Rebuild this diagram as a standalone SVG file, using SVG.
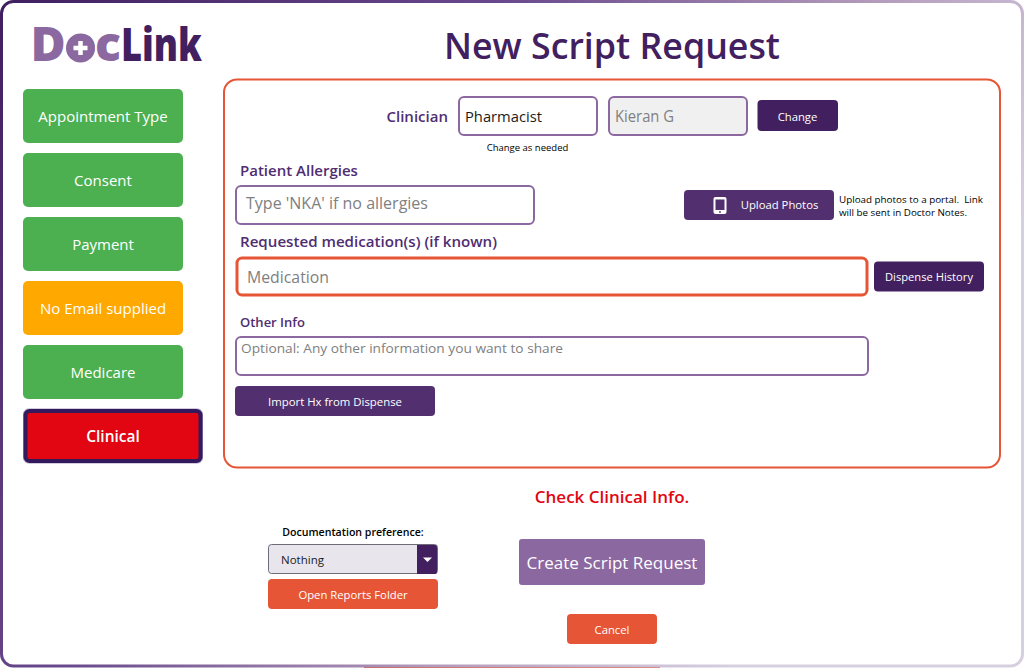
<svg xmlns="http://www.w3.org/2000/svg" width="1024" height="668" viewBox="0 0 1024 668">
<defs>
<linearGradient id="frame" gradientUnits="userSpaceOnUse" x1="0" y1="0" x2="1024" y2="668">
<stop offset="0" stop-color="#3f1f60"/><stop offset="0.35" stop-color="#6a4a8c"/><stop offset="0.6" stop-color="#b49cbc"/><stop offset="0.8" stop-color="#d6cfe0"/><stop offset="1" stop-color="#d6cfe0"/>
</linearGradient>
</defs>
<style>
text{font-family:"Open Sans","Noto Sans","Liberation Sans",sans-serif}
.c{text-anchor:middle}
.nav{fill:#4caf50}
.navt{font-size:15px;fill:#fff;text-anchor:middle}
.dk{fill:#42205f}
.btn{font-size:11.3px;fill:#fff;text-anchor:middle}
.inp{fill:#fff;stroke:#8c68a0;stroke-width:2}
.lbl{font-size:15px;font-weight:600;fill:#4f2d72}
.ph{font-size:15.5px;fill:#808080}
.tiny{font-size:9.5px;fill:#000}
.or{fill:#e65535}
</style>
<rect width="1024" height="668" fill="#fff"/>
<rect x="364" y="666" width="296" height="2" fill="#e65535"/>
<rect x="1.5" y="1.5" width="1021" height="664.500" rx="12" fill="#fff" stroke="url(#frame)" stroke-width="3"/>
<g id="logo">
<text y="61" font-size="48" font-weight="800" fill="#8c68a0"><tspan x="30.500">D</tspan><tspan x="66">o</tspan><tspan x="95">c</tspan></text>
<circle cx="80.500" cy="48" r="14.500" fill="#8c68a0"/>
<path d="M73.500 48h14M80.500 41v14" stroke="#fff" stroke-width="4.500" fill="none"/>
<text x="121" y="61" font-size="46" font-weight="800" fill="#42205f" textLength="81" lengthAdjust="spacingAndGlyphs">Link</text>
</g>
<text id="title" x="612" y="59" class="c" font-size="36" font-weight="600" fill="#42205f" textLength="336" lengthAdjust="spacingAndGlyphs">New Script Request</text>
<g id="nav-appointment"><rect class="nav" x="23" y="89" width="160" height="54" rx="5"/><text class="navt" x="103" y="122">Appointment Type</text></g>
<g id="nav-consent"><rect class="nav" x="23" y="153" width="160" height="54" rx="5"/><text class="navt" x="103" y="186">Consent</text></g>
<g id="nav-payment"><rect class="nav" x="23" y="217" width="160" height="54" rx="5"/><text class="navt" x="103" y="250">Payment</text></g>
<g id="nav-email"><rect x="23" y="281" width="160" height="54" rx="5" fill="#ffa800"/><text class="navt" x="103" y="314">No Email supplied</text></g>
<g id="nav-medicare"><rect class="nav" x="23" y="345" width="160" height="54" rx="5"/><text class="navt" x="103" y="378">Medicare</text></g>
<g id="nav-clinical"><rect x="23.500" y="409" width="179" height="54" rx="5" fill="none" stroke="#a79ac0" stroke-width="1"/><rect x="25.500" y="411" width="175" height="50" rx="4" fill="#e10612" stroke="#341a5c" stroke-width="4"/><text x="113" y="442" font-size="15.500" font-weight="600" fill="#fff" text-anchor="middle">Clinical</text></g>
<rect id="panel" x="224" y="79.500" width="776" height="388" rx="13" fill="#fff" stroke="#e65535" stroke-width="2"/>
<g id="clinician">
<text x="386.500" y="122" class="lbl">Clinician</text>
<rect class="inp" x="459" y="97" width="138" height="38" rx="5"/>
<text x="465" y="122" font-size="15" fill="#1a1a1a" textLength="77" lengthAdjust="spacingAndGlyphs">Pharmacist</text>
<rect x="609" y="97" width="138" height="38" rx="5" fill="#f0f0f0" stroke="#8c68a0" stroke-width="2"/>
<text class="ph" x="615" y="122" textLength="59" lengthAdjust="spacingAndGlyphs">Kieran G</text>
<text class="tiny c" x="527.500" y="151">Change as needed</text>
</g>
<g id="change"><rect class="dk" x="757.500" y="100" width="80.500" height="31" rx="4"/><text class="btn" x="797.500" y="121">Change</text></g>
<g id="allergies">
<text class="lbl" x="240" y="176">Patient Allergies</text>
<rect class="inp" x="236" y="186" width="298" height="38" rx="5"/>
<text class="ph" x="246" y="209" textLength="182" lengthAdjust="spacingAndGlyphs">Type 'NKA' if no allergies</text>
</g>
<g id="upload">
<rect x="684" y="190" width="150" height="30" rx="4" fill="#52306f"/>
<rect x="713.500" y="197" width="13" height="17" rx="2" fill="#fff"/><rect x="715.500" y="199.500" width="9" height="10.500" fill="#52306f"/><circle cx="720" cy="212" r="0.900" fill="#52306f"/>
<text class="btn" x="779.500" y="209">Upload Photos</text>
<text class="tiny" x="839" y="203" xml:space="preserve" textLength="144" lengthAdjust="spacingAndGlyphs">Upload photos to a portal.  Link</text>
<text class="tiny" x="839" y="216" textLength="128" lengthAdjust="spacingAndGlyphs">will be sent in Doctor Notes.</text>
</g>
<g id="medication">
<text class="lbl" x="240" y="247" textLength="257" lengthAdjust="spacingAndGlyphs">Requested medication(s) (if known)</text>
<rect x="237" y="258" width="630" height="37" rx="5" fill="#fff" stroke="#e65535" stroke-width="3"/>
<text class="ph" x="247" y="283" textLength="82" lengthAdjust="spacingAndGlyphs">Medication</text>
</g>
<g id="dispense"><rect class="dk" x="874" y="261.500" width="110" height="30" rx="4"/><text class="btn" x="929" y="281" textLength="88" lengthAdjust="spacingAndGlyphs">Dispense History</text></g>
<g id="other">
<text class="lbl" x="240" y="327" style="font-size:13px">Other Info</text>
<rect class="inp" x="236" y="337" width="632" height="38" rx="5"/>
<text x="241" y="353" font-size="13.500" fill="#808080" textLength="322" lengthAdjust="spacingAndGlyphs">Optional: Any other information you want to share</text>
</g>
<g id="import"><rect x="235" y="386" width="200" height="30" rx="4" fill="#52306f"/><text class="btn" x="335" y="406" textLength="134" lengthAdjust="spacingAndGlyphs">Import Hx from Dispense</text></g>
<text id="status" x="612" y="503" class="c" font-size="17" font-weight="600" fill="#e10612">Check Clinical Info.</text>
<g id="documentation">
<text x="353" y="536" class="c" font-size="10.600" font-weight="600" fill="#000">Documentation preference:</text>
<rect x="268.500" y="544.500" width="169" height="29" rx="3" fill="#e8e6ec" stroke="#6f6b78"/>
<path d="M417 545h18a2 2 0 0 1 2 2v25a2 2 0 0 1-2 2h-18z" fill="#42205f"/>
<path d="M423 557.500h9l-4.500 4.500z" fill="#fff"/>
<text x="281" y="564" font-size="11.500" fill="#1a1a1a">Nothing</text>
</g>
<g id="reports"><rect class="or" x="268" y="579" width="170" height="30" rx="4"/><text class="btn" x="353" y="599">Open Reports Folder</text></g>
<g id="create"><rect x="519" y="539" width="186" height="46" rx="3" fill="#8c68a0"/><text x="612" y="569" class="c" font-size="17" fill="#fff">Create Script Request</text></g>
<g id="cancel"><rect class="or" x="567" y="614" width="90" height="30" rx="4"/><text class="btn" x="612" y="634">Cancel</text></g>
</svg>
